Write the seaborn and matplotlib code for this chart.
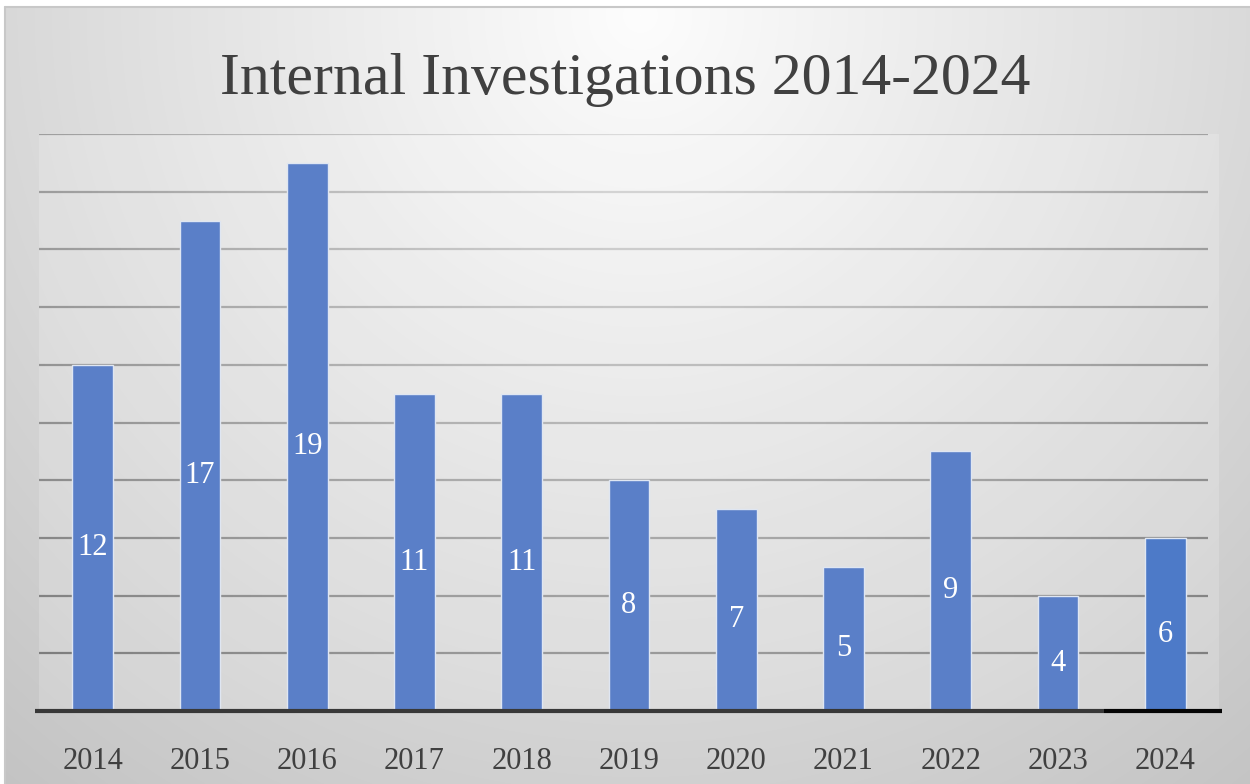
import numpy as np
import pandas as pd
import matplotlib
matplotlib.use("Agg")
import matplotlib.pyplot as plt
from matplotlib.collections import LineCollection
import seaborn as sns

years = ["2014", "2015", "2016", "2017", "2018", "2019", "2020", "2021", "2022", "2023", "2024"]
counts = [12, 17, 19, 11, 11, 8, 7, 5, 9, 4, 6]
title = "Internal Investigations 2014-2024"

sns.set_theme(style="white")
plt.rcParams["font.family"] = ["Liberation Serif", "DejaVu Serif"]

W, H = 1250, 784
fig = plt.figure(figsize=(W / 100, H / 100), dpi=100)

px_l, px_r, px_b, px_t = 39, 1219, 711, 134


def bg_value(x, y):
    d = np.sqrt(((x - 640) / 900.0) ** 2 + ((y - 15) / 900.0) ** 2)
    return np.clip(253 - 52 * d, 185, 253)


# background radial gradient
bg = fig.add_axes([0, 0, 1, 1], zorder=-10)
yy, xx = np.mgrid[0:H, 0:W]
val = bg_value(xx, yy) / 255.0
img = np.dstack([val, val, val])
img[:7, :, :] = 1.0
img[:, :5, :] = 1.0
bg.imshow(img, extent=[0, W, H, 0], aspect="auto", interpolation="bilinear")
bg.plot([5, W], [7, 7], color="#c8c8c8", lw=1.5)
bg.plot([5, 5], [7, H], color="#c8c8c8", lw=1.5)
bg.set_xlim(0, W)
bg.set_ylim(H, 0)
bg.axis("off")

left, right = px_l / W, px_r / W
bottom, top = (H - px_b) / H, (H - px_t) / H
ax = fig.add_axes([left, bottom, right - left, top - bottom])
ax.patch.set_facecolor("white")
ax.patch.set_alpha(0.18)

df = pd.DataFrame({"year": years, "count": counts})
palette = ["#5a7fc8"] * (len(years) - 1) + ["#4d7ac8"]
sns.barplot(data=df, x="year", y="count", hue="year", palette=palette,
            legend=False, width=0.38, ax=ax, edgecolor="#dfe6f2", linewidth=1.0,
            saturation=1, zorder=3)

ymax = 20
n = len(years)
ax.set_ylim(0, ymax)
ax.set_xlim(-0.5, n - 0.5)

# gridlines, shaded to follow the background lighting
grid_vals = np.arange(2, ymax + 1, 2)
xs = np.linspace(-0.5, n - 0.6, 200)
for g in grid_vals:
    pts = np.column_stack([xs, np.full_like(xs, g)])
    segs = np.stack([pts[:-1], pts[1:]], axis=1)
    xm = (xs[:-1] + xs[1:]) / 2
    px = px_l + (xm + 0.5) / n * (px_r - px_l)
    py = px_b - g / ymax * (px_b - px_t)
    b = bg_value(px, py)
    b = b + 0.18 * (255 - b)
    c = np.clip(b - (26 + 1.6 * (250 - b)), 110, 240) / 255.0
    cols = np.column_stack([c, c, c, np.ones_like(c)])
    lc = LineCollection(segs, colors=cols, linewidths=1.6, zorder=1)
    ax.add_collection(lc)

ax.tick_params(axis="y", left=False, labelleft=False)
ax.tick_params(axis="x", bottom=False, labelsize=22, labelcolor="#404040", pad=20)
ax.set_xlabel("")
ax.set_ylabel("")
for s in ["top", "right", "left", "bottom"]:
    ax.spines[s].set_visible(False)
ax.plot([-0.54, n - 1.57], [0, 0], color="#383838", linewidth=3, zorder=5,
        clip_on=False, solid_capstyle="butt")
ax.plot([n - 1.57, n - 0.47], [0, 0], color="#050505", linewidth=3, zorder=5,
        clip_on=False, solid_capstyle="butt")

for i, v in enumerate(counts):
    ax.annotate(str(v), (i, v / 2), xytext=(0, -7), textcoords="offset points",
                ha="center", va="center", color="white", fontsize=22, zorder=6)

fig.text(0.5, (H - 80) / H, title, ha="center", va="center",
         fontsize=43, color="#404040")

fig.savefig("out.png", dpi=100)
